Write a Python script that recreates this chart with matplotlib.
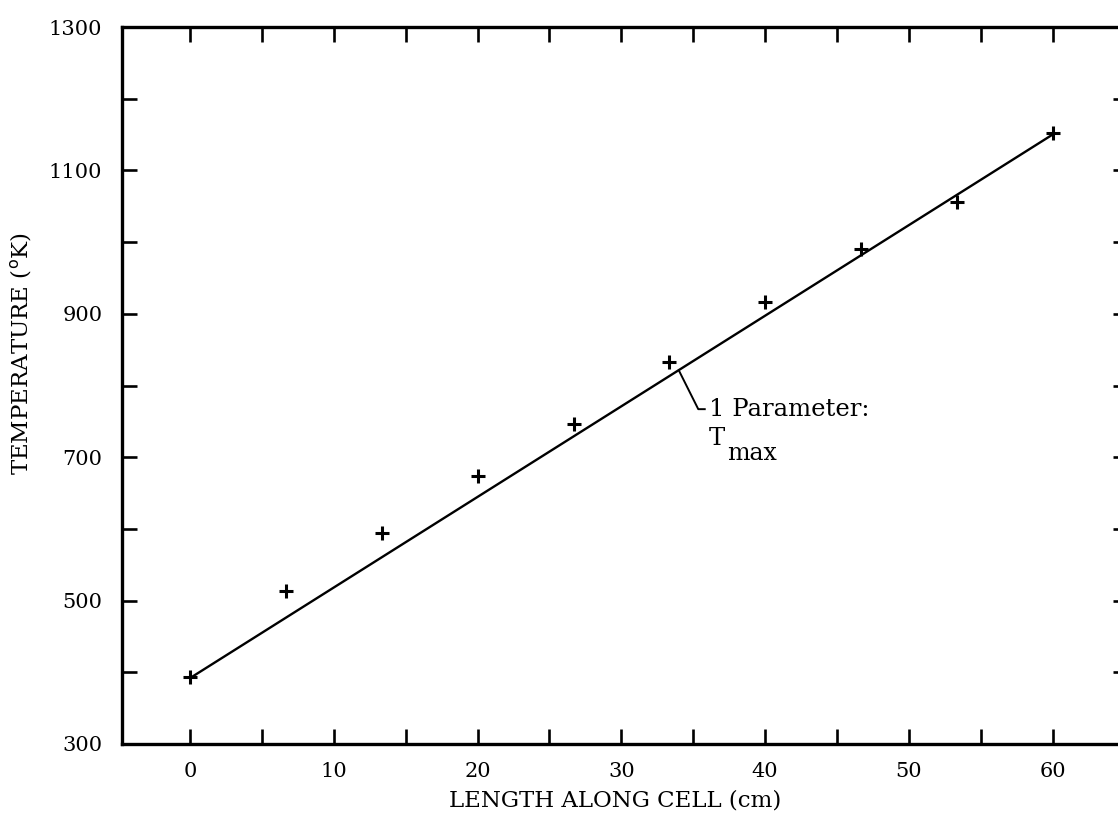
import matplotlib
matplotlib.use("Agg")
import matplotlib.pyplot as plt
import numpy as np

plt.rcParams['font.family'] = ['DejaVu Serif']

# measured points (length along cell in cm, temperature in K)
length_cm = [0, 6.67, 13.33, 20.0, 26.67, 33.33, 40.0, 46.67, 53.33, 60.0]
temp_k = [394, 514, 594, 674, 746, 833, 917, 990, 1056, 1152]

# 1-parameter fit line
fit_x = [0, 60.0]
fit_y = [392, 1150]

x_ticks = [0, 10, 20, 30, 40, 50, 60]
y_ticks = [300, 500, 700, 900, 1100, 1300]

fig = plt.figure(figsize=(11.18, 8.31), dpi=100)
ax = fig.add_axes([0.109, 0.1047, 0.90, 0.8628])

ax.plot(fit_x, fit_y, color="black", lw=1.7)
ax.plot(length_cm, temp_k, ls="none", marker="+", ms=10, mew=2.2, color="black")

# leader line to the label
ax.plot([34.0, 35.35, 35.8], [821, 767, 767], color="black", lw=1.4)
ax.text(36.1, 767, "1 Parameter:", fontsize=17.5, va="center", ha="left")
ax.text(36.1, 717, "T", fontsize=17.5, va="baseline", ha="left")
ax.annotate("max", xy=(36.1, 717), xytext=(13, -11), textcoords="offset points",
            fontsize=17, va="baseline", ha="left")

ax.set_xlim(-4.75, 65.25)
ax.set_ylim(300, 1300)
ax.set_xticks(x_ticks)
ax.set_xticks(np.arange(-0, 66, 5), minor=True)
ax.set_yticks(y_ticks)
ax.set_yticks(np.arange(300, 1301, 100), minor=True)

ax.tick_params(which="both", direction="in", length=11, width=1.9,
               top=True, right=True, labelsize=15)
ax.tick_params(axis="x", which="major", pad=13)
ax.tick_params(axis="y", which="major", pad=14)

for s in ax.spines.values():
    s.set_linewidth(2.4)

ax.set_xlabel("LENGTH ALONG CELL (cm)", fontsize=16.5)
ax.xaxis.set_label_coords(0.49, -0.064)
ax.set_ylabel(r"TEMPERATURE ($^{\mathrm{o}}$K)", fontsize=16.5)
ax.yaxis.set_label_coords(-0.087, 0.545)

plt.savefig("out.png", dpi=100)
